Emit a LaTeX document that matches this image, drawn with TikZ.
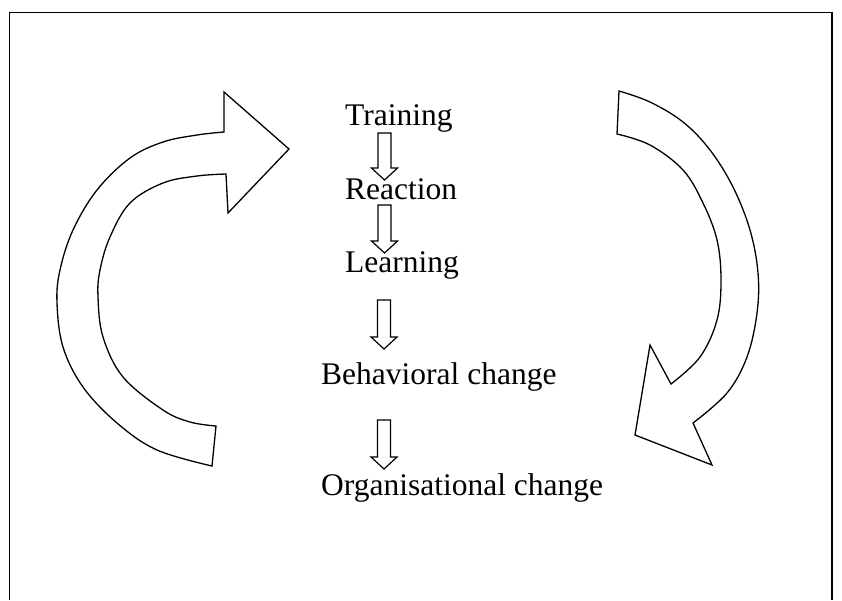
\documentclass[tikz,border=0pt]{standalone}
\usepackage{fontspec}
\setmainfont{Liberation Serif}
\usetikzlibrary{calc}

% hollow block arrow pointing down: #1 = top of shaft, #2 = tip
\newcommand{\hollowdown}[2]{%
  \draw[smallarrow]
    ($(#1)+(-6.5,0)$) -- ($(#2)+(-6.5,-12)$) -- ($(#2)+(-13,-12)$) -- (#2)
    -- ($(#2)+(13,-12)$) -- ($(#2)+(6.5,-12)$) -- ($(#1)+(6.5,0)$) -- cycle;}

\begin{document}
\begin{tikzpicture}[x=1pt, y=-1pt,
  frame/.style={line width=1.6pt},
  bigarrow/.style={line width=1.3pt, line join=miter},
  smallarrow/.style={line width=1.2pt, line join=miter},
  stage/.style={inner sep=0pt, anchor=base west, font=\fontsize{31.5}{36}\selectfont}]
\useasboundingbox (0,0) rectangle (842,600);

% open frame
\draw[frame] (9.5,600) -- (9.5,12.5) -- (832,12.5) -- (832,600);

% stages
\node[stage] (train) at (345,125) {Training};
\node[stage] (react) at (345,199) {Reaction};
\node[stage] (learn) at (345,272) {Learning};
\node[stage] (behav) at (321,384) {Behavioral change};
\node[stage] (org)   at (321,495) {Organisational change};

% hollow arrows between the stages
\coordinate (a1s) at (384.5,133); \coordinate (a1e) at (384.5,180);
\coordinate (a2s) at (384.5,205); \coordinate (a2e) at (384.5,253);
\coordinate (a3s) at (384,300);   \coordinate (a3e) at (384,349);
\coordinate (a4s) at (384,420);   \coordinate (a4e) at (384,469);
\hollowdown{a1s}{a1e}
\hollowdown{a2s}{a2e}
\hollowdown{a3s}{a3e}
\hollowdown{a4s}{a4e}

% curved arrow on the left, turning up and to the right
\draw[bigarrow] (216,426) -- (212,466)
  -- plot[smooth, tension=0.6] coordinates {(212,466) (157,450) (117,423) (83,387)
      (63,347) (57,303) (60,270) (73,230) (97,190) (130,158) (163,142) (197,135) (224,132)}
  -- (224,92) -- (289,149) -- (228,213) -- (226,174)
  -- plot[smooth, tension=0.6] coordinates {(226,174) (197,176) (163,183) (130,203)
      (110,237) (100,270) (98,297) (103,337) (123,377) (163,410) (190,422) (216,426)}
  -- cycle;

% curved arrow on the right, turning down and to the left
\draw[bigarrow] (617,134) -- (619,91)
  -- plot[smooth, tension=0.6] coordinates {(619,91) (650,102) (683,122) (710,150)
      (733,187) (750,230) (758,273) (757,313) (747,357) (727,393) (693,423)}
  -- (712,465) -- (635,435) -- (650,345) -- (671,384)
  -- plot[smooth, tension=0.6] coordinates {(671,384) (700,357) (717,320) (721,280)
      (717,240) (703,203) (683,170) (650,145) (617,134)}
  -- cycle;
\end{tikzpicture}
\end{document}
